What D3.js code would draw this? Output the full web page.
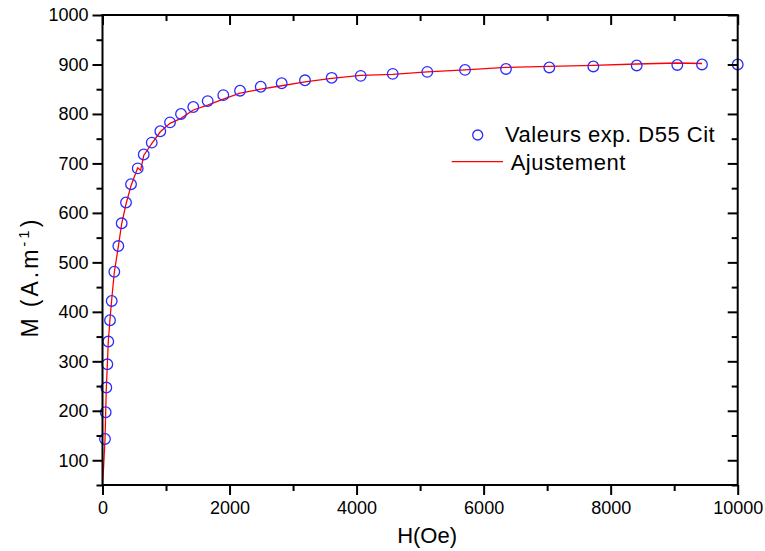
<!DOCTYPE html>
<html>
<head>
<meta charset="utf-8">
<script src="https://cdn.jsdelivr.net/npm/d3@7"></script>
<style>
  body { margin: 0; background: #fff; }
  svg { display: block; font-family: "Liberation Sans", Arial, sans-serif; }
</style>
</head>
<body>
<svg id="chart" width="765" height="551"></svg>
<script>
// ---- data ----
const expH = [39, 50, 60, 76, 91, 118, 145, 186, 249, 302, 370, 449, 554, 649, 775, 910, 1063, 1236, 1429, 1656, 1902, 2165, 2491, 2821, 3188, 3608, 4065, 4569, 5113, 5707, 6352, 7034, 7727, 8410, 9049, 9438, 10000];
const expM = [143, 197, 247, 294, 340, 383, 422, 481, 533, 579, 621, 658, 690, 718, 742, 765, 783, 800, 814, 826, 838, 847, 855, 862, 868, 873, 877, 881, 885, 889, 891, 894, 896, 898, 899, 900, 900];
const fitH = [0, 39, 50, 60, 76, 91, 118, 145, 186, 249, 302, 370, 449, 554, 600, 649, 775, 910, 1063, 1236, 1429, 1656, 1902, 2165, 2491, 2821, 3188, 3608, 4065, 4569, 5113, 5707, 6352, 7034, 7727, 8410, 9049, 9438];
const fitM = [45, 140, 196, 245, 293, 340, 385, 425, 480, 532, 578, 618, 655, 691, 686, 716, 740, 764, 781, 791, 808, 818, 830, 842, 850, 857, 865, 872, 878, 880, 885, 889, 894, 896, 898, 901, 903, 902];
const xTicks = [0, 2000, 4000, 6000, 8000, 10000];
const xMinor = [1000, 3000, 5000, 7000, 9000];
const yTicks = [100, 200, 300, 400, 500, 600, 700, 800, 900, 1000];
const yMinor = [50, 150, 250, 350, 450, 550, 650, 750, 850, 950];
const legendLabels = ["Valeurs exp. D55 Cit", "Ajustement"];
const xTitle = "H(Oe)";

// ---- layout ----
const L = 102.5, R = 737.7, T = 15, B = 485;
const svg = d3.select("#chart");
const x = d3.scaleLinear().domain([0, 10000]).range([L, R]);
const y = d3.scaleLinear().domain([50, 1000]).range([B, T]);

svg.append("defs").append("clipPath").attr("id", "clip")
  .append("rect").attr("x", L).attr("y", T).attr("width", R - L).attr("height", B - T);

// fit line
const line = d3.line().x(d => x(d[0])).y(d => y(d[1]));
svg.append("path")
  .datum(fitH.map((h, i) => [h, fitM[i]]))
  .attr("clip-path", "url(#clip)")
  .attr("d", line).attr("fill", "none").attr("stroke", "#ff0000").attr("stroke-width", 1.3);

// experimental points
svg.append("g").selectAll("circle")
  .data(expH.map((h, i) => [h, expM[i]]))
  .join("circle")
  .attr("cx", d => x(d[0])).attr("cy", d => y(d[1])).attr("r", 5.3)
  .attr("fill", "none").attr("stroke", "#2b2bff").attr("stroke-width", 1.3);

// axes
function styleAxis(g) {
  g.select(".domain").remove();
  g.selectAll(".tick line").attr("stroke", "#000").attr("stroke-width", 2);
  g.selectAll(".tick text").attr("fill", "#000").style("font-size", "18px");
}
// bottom
svg.append("g").attr("transform", `translate(0,${B})`)
  .call(d3.axisBottom(x).tickValues(xTicks).tickSize(10).tickPadding(6).tickFormat(d3.format("d")))
  .call(styleAxis);
svg.append("g").attr("transform", `translate(0,${B})`)
  .call(d3.axisBottom(x).tickValues(xMinor).tickSize(6).tickFormat(""))
  .call(styleAxis);
// top (inward)
svg.append("g").attr("transform", `translate(0,${T})`)
  .call(d3.axisBottom(x).tickValues(xTicks).tickSize(10).tickFormat(""))
  .call(styleAxis);
svg.append("g").attr("transform", `translate(0,${T})`)
  .call(d3.axisBottom(x).tickValues(xMinor).tickSize(6).tickFormat(""))
  .call(styleAxis);
// left
svg.append("g").attr("transform", `translate(${L},0)`)
  .call(d3.axisLeft(y).tickValues(yTicks).tickSize(10).tickPadding(4).tickFormat(d3.format("d")))
  .call(styleAxis);
svg.append("g").attr("transform", `translate(${L},0)`)
  .call(d3.axisLeft(y).tickValues(yMinor).tickSize(6).tickFormat(""))
  .call(styleAxis);
// right (inward)
svg.append("g").attr("transform", `translate(${R},0)`)
  .call(d3.axisLeft(y).tickValues(yTicks).tickSize(10).tickFormat(""))
  .call(styleAxis);
svg.append("g").attr("transform", `translate(${R},0)`)
  .call(d3.axisLeft(y).tickValues(yMinor).tickSize(6).tickFormat(""))
  .call(styleAxis);

// frame
svg.append("rect").attr("x", L).attr("y", T).attr("width", R - L).attr("height", B - T)
  .attr("fill", "none").attr("stroke", "#000").attr("stroke-width", 2);

// axis titles
svg.append("text").attr("x", (L + R) / 2 + 7).attr("y", 543).attr("text-anchor", "middle")
  .style("font-size", "22px").text(xTitle);
const yt = svg.append("text").attr("transform", "translate(38,277) rotate(-90)")
  .attr("text-anchor", "middle").style("font-size", "23px").style("letter-spacing", "3px");
yt.append("tspan").text("M");
yt.append("tspan").attr("dx", 8).text("(A.m");
yt.append("tspan").attr("dy", -9).style("font-size", "15px").text("-1");
yt.append("tspan").attr("dy", 9).text(")");

// legend
svg.append("circle").attr("cx", 477.7).attr("cy", 135).attr("r", 5)
  .attr("fill", "none").attr("stroke", "#2b2bff").attr("stroke-width", 1.3);
svg.append("text").attr("x", 505).attr("y", 142).style("font-size", "22px")
  .style("letter-spacing", "0.5px").text(legendLabels[0]);
svg.append("line").attr("x1", 451.7).attr("x2", 503).attr("y1", 161.7).attr("y2", 161.7)
  .attr("stroke", "#ff0000").attr("stroke-width", 1.3);
svg.append("text").attr("x", 510.7).attr("y", 170).style("font-size", "22px")
  .style("letter-spacing", "0.5px").text(legendLabels[1]);
</script>
</body>
</html>
